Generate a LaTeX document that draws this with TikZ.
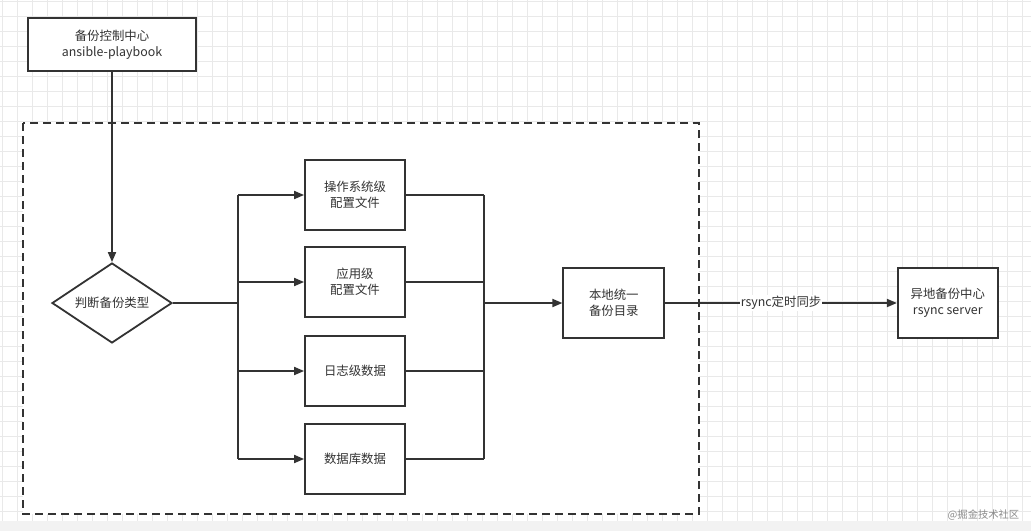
\documentclass[tikz,border=0pt]{standalone}
\usepackage{fontspec}
\setmainfont{Noto Sans CJK SC}
\usetikzlibrary{arrows.meta,shapes.geometric}
\definecolor{ln}{HTML}{333333}
\definecolor{gridc}{HTML}{E9E9E9}
\definecolor{bandc}{HTML}{F2F2F2}
\definecolor{wm}{HTML}{8A8A8A}
\tikzset{
  box/.style={draw=ln, line width=1.8pt, fill=white, text=ln, align=center,
    font=\fontsize{12.4}{15.6}\selectfont, inner sep=0pt},
  dia/.style={diamond, draw=ln, line width=1.8pt, fill=white, text=ln,
    font=\fontsize{12.4}{15.6}\selectfont, inner sep=0pt, aspect=1.5,
    minimum width=120pt, minimum height=80pt},
  con/.style={draw=ln, line width=1.8pt},
  arr/.style={con, -{Triangle[length=10pt,width=8pt]}},
  frame/.style={draw=ln, line width=1.8pt, dash pattern=on 8pt off 5pt, fill=white},
  lbl/.style={fill=white, text=ln, font=\fontsize{12.4}{15}\selectfont, inner sep=1pt}
}
\begin{document}
\begin{tikzpicture}[x=1pt,y=-1pt]
\useasboundingbox (0,0) rectangle (1031,531);
\fill[white] (0,0) rectangle (1031,531);
% grid
\foreach \x in {2.3,17.3,...,1031} \draw[gridc,line width=1pt] (\x,0) -- (\x,521);
\foreach \y in {1.7,16.7,...,521} \draw[gridc,line width=1pt] (0,\y) -- (1031,\y);
\fill[bandc] (0,521) rectangle (1031,531);
% dashed container
\draw[frame] (23,123) rectangle (699,514);
% nodes
\node[box, minimum width=168pt, minimum height=53pt] (top) at (112,44.5) {备份控制中心\\ansible-playbook};
\node[dia] (d) at (112,303) {判断备份类型};
\node[box, minimum width=100pt, minimum height=70pt] (b1) at (355,195) {操作系统级\\配置文件};
\node[box, minimum width=100pt, minimum height=70pt] (b2) at (355,282) {应用级\\配置文件};
\node[box, minimum width=100pt, minimum height=70pt] (b3) at (355,371) {日志级数据};
\node[box, minimum width=100pt, minimum height=70pt] (b4) at (355,459) {数据库数据};
\node[box, minimum width=101pt, minimum height=70pt] (loc) at (613.8,303) {本地统一\\备份目录};
\node[box, minimum width=100pt, minimum height=70pt] (rem) at (947.8,303) {异地备份中心\\rsync server};
% trunk coordinates
\coordinate (bt) at (238,195);
\coordinate (bb) at (238,459);
\coordinate (mt) at (484,195);
\coordinate (mb) at (484,459);
% connectors
\draw[arr] (top) -- (d);
\draw[con] (d.east) -- (d.east -| bt);
\draw[con] (bt) -- (bb);
\draw[arr] (bt) -- (b1);
\draw[arr] (bt |- b2) -- (b2);
\draw[arr] (bt |- b3) -- (b3);
\draw[arr] (bb) -- (b4);
\draw[con] (b1.east) -- (mt);
\draw[con] (b2.east) -- (b2.east -| mt);
\draw[con] (b3.east) -- (b3.east -| mt);
\draw[con] (b4.east) -- (mb);
\draw[con] (mt) -- (mb);
\draw[arr] (mt |- loc) -- (loc);
\draw[arr] (loc) -- node[lbl] {rsync定时同步} (rem);
% watermark
\node[text=wm, font=\fontsize{10.3}{10}\selectfont, inner sep=0pt] (wmk) at (983.5,515.5) {@掘金技术社区};
\end{tikzpicture}
\end{document}
